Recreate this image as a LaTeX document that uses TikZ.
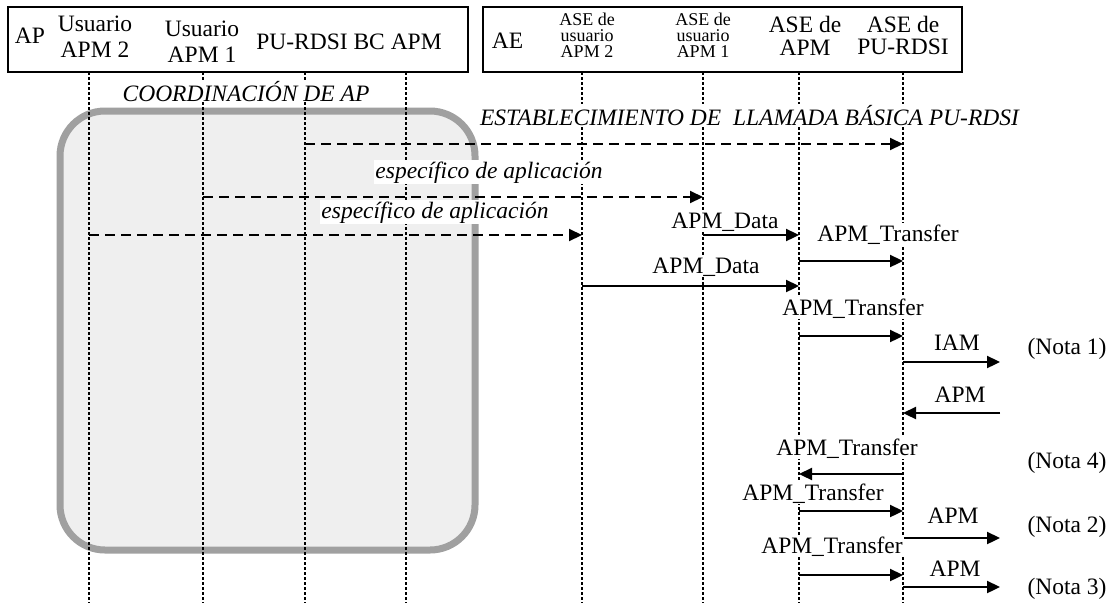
\documentclass[tikz,border=0pt]{standalone}
\usepackage{fontspec}
\setmainfont{Liberation Serif}
\usetikzlibrary{arrows.meta}
\definecolor{rimgray}{RGB}{160,160,160}
\definecolor{fillgray}{RGB}{239,239,239}
\begin{document}
\begin{tikzpicture}[x=1pt,y=-1pt,
  every node/.style={inner sep=1pt, outer sep=0pt},
  big/.style={font=\fontsize{23.5}{26}\selectfont},
  small/.style={font=\fontsize{18}{16}\selectfont},
  lbl/.style={big, fill=white, anchor=base},
  ilbl/.style={lbl, font=\fontsize{23.5}{26}\selectfont\itshape},
  hdrbox/.style={draw=black, line width=1.2pt, anchor=north west, minimum height=65pt},
  coordbox/.style={draw=rimgray, fill=fillgray, line width=7pt, rounded corners=45pt, minimum width=415pt, minimum height=439pt},
  life/.style={line width=1.8pt, dash pattern=on 3pt off 2pt},
  thinlife/.style={line width=1.1pt, dash pattern=on 3pt off 2pt},
  msg/.style={line width=2.3pt, -{Triangle[length=13pt,width=12pt]}},
  amsg/.style={msg, line width=2.1pt, dash pattern=on 10pt off 6pt}
]
\useasboundingbox (0,0) rectangle (1114,603);

% coordination region
\node[coordbox] (coord) at (267.5,330.5) {};

% header boxes
\node[hdrbox, minimum width=460pt] (boxL) at (8,7) {};
\node[hdrbox, minimum width=479pt] (boxR) at (483,7) {};

% header texts
\node[big, anchor=base] (tAP) at (30,43) {AP};
\node[big, align=center] (tU2) at (95,37) {Usuario\\APM 2};
\node[big, align=center] (tU1) at (202,41.5) {Usuario\\APM 1};
\node[big, anchor=base] (tBC) at (349,49) {PU-RDSI BC APM};
\node[big, anchor=base] (tAE) at (507.5,48) {AE};
\node[small, align=center] (tA2) at (587,35) {ASE de\\usuario\\APM 2};
\node[small, align=center] (tA1) at (703,35) {ASE de\\usuario\\APM 1};
\node[font=\fontsize{23.5}{23}\selectfont, align=center] (tAA) at (805,35.7) {ASE de\\APM};
\node[font=\fontsize{23.5}{22}\selectfont, align=center] (tAR) at (903,35) {ASE de\\PU-RDSI};

% lifeline tops and bottom
\coordinate (u2) at (89,72);
\coordinate (u1) at (203,72);
\coordinate (bc) at (305,72);
\coordinate (apm) at (406,72);
\coordinate (ase2) at (582,72);
\coordinate (ase1) at (703,72);
\coordinate (aseapm) at (799,72);
\coordinate (asepu) at (903,72);
\coordinate (bot) at (0,603);
\coordinate (ext) at (1000,0);

\draw[life] (u2) -- (u2 |- bot);
\draw[thinlife] (u1) -- (u1 |- bot);
\draw[life] (bc) -- (bc |- bot);
\draw[life] (apm) -- (apm |- bot);
\draw[life] (ase2) -- (ase2 |- bot);
\draw[life] (ase1) -- (ase1 |- bot);
\draw[life] (aseapm) -- (aseapm |- bot);
\draw[life] (asepu) -- (asepu |- bot);

% message rows
\coordinate (ra) at (0,144);
\coordinate (rb) at (0,197);
\coordinate (rc) at (0,235);
\coordinate (rd) at (0,261);
\coordinate (re) at (0,286);
\coordinate (rf) at (0,336);
\coordinate (rg) at (0,362);
\coordinate (rh) at (0,413);
\coordinate (ri) at (0,474);
\coordinate (rj) at (0,511);
\coordinate (rk) at (0,538);
\coordinate (rl) at (0,575);
\coordinate (rm) at (0,587);

\draw[amsg] (bc |- ra) -- (asepu |- ra);
\draw[amsg] (u1 |- rb) -- (ase1 |- rb);
\draw[amsg] (u2 |- rc) -- (ase2 |- rc);
\draw[msg] (ase1 |- rc) -- (aseapm |- rc);
\draw[msg] (aseapm |- rd) -- (asepu |- rd);
\draw[msg] (ase2 |- re) -- (aseapm |- re);
\draw[msg] (aseapm |- rf) -- (asepu |- rf);
\draw[msg] (asepu |- rg) -- (ext |- rg);
\draw[msg] (ext |- rh) -- (asepu |- rh);
\draw[msg] (asepu |- ri) -- (aseapm |- ri);
\draw[msg] (aseapm |- rj) -- (asepu |- rj);
\draw[msg] (asepu |- rk) -- (ext |- rk);
\draw[msg] (aseapm |- rl) -- (asepu |- rl);
\draw[msg] (asepu |- rm) -- (ext |- rm);

% labels
\node[ilbl] (lcoord) at (246,101) {COORDINACIÓN DE AP};
\node[ilbl, anchor=base west] (lest) at (479,125) {ESTABLECIMIENTO DE\ \ LLAMADA BÁSICA PU-RDSI};
\node[ilbl] (lesp1) at (489,178) {específico de aplicación};
\node[ilbl] (lesp2) at (435,218) {específico de aplicación};
\node[lbl] (ld1) at (725,228) {APM\_Data};
\node[lbl] (lt1) at (888,241) {APM\_Transfer};
\node[lbl] (ld2) at (706,273) {APM\_Data};
\node[lbl] (lt2) at (853,315) {APM\_Transfer};
\node[lbl] (liam) at (957,350) {IAM};
\node[lbl] (n1) at (1067,354) {(Nota 1)};
\node[lbl] (lapm1) at (960,402) {APM};
\node[lbl] (lt3) at (847,455) {APM\_Transfer};
\node[lbl] (n4) at (1067,468) {(Nota 4)};
\node[lbl] (lt4) at (813,500) {APM\_Transfer};
\node[lbl] (lapm2) at (953,523) {APM};
\node[lbl] (n2) at (1067,532) {(Nota 2)};
\node[lbl] (lt5) at (832,553) {APM\_Transfer};
\node[lbl] (lapm3) at (955,576) {APM};
\node[lbl] (n3) at (1067,594) {(Nota 3)};
\end{tikzpicture}
\end{document}
